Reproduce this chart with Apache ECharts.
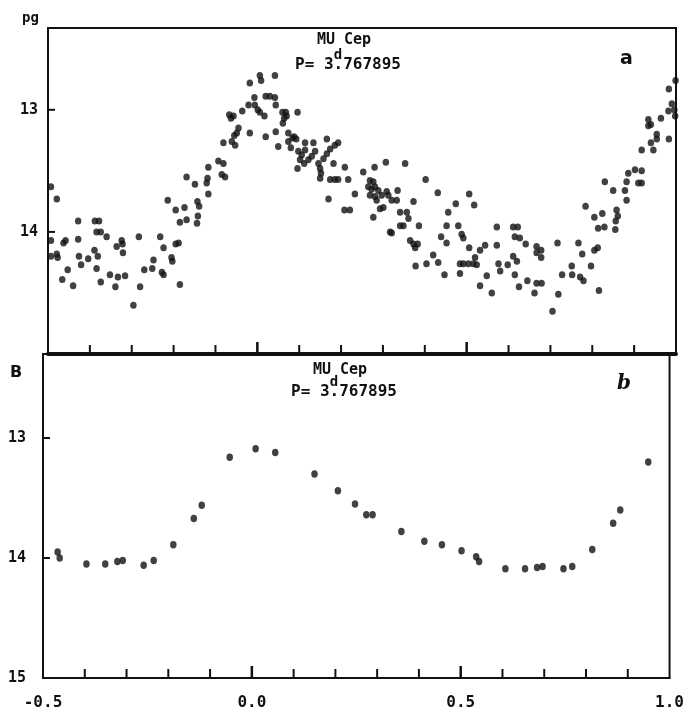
<!DOCTYPE html>
<html>
<head>
<meta charset="utf-8">
<script src="https://cdn.jsdelivr.net/npm/echarts@6/dist/echarts.min.js"></script>
<style>
html,body{margin:0;padding:0;background:#fff;}
#chart{width:687px;height:712px;}
</style>
</head>
<body>
<div id="chart"></div>
<script>
// Panel a: individual observations (phase, pg magnitude)
const phaseA = [
 -0.493,-0.479,-0.493,-0.493,-0.479,-0.477,-0.463,-0.458,-0.466,-0.453,-0.440,-0.428,-0.428,-0.426,-0.421,-0.404,
 -0.388,-0.378,-0.384,-0.374,-0.389,-0.381,-0.384,-0.374,-0.360,-0.352,-0.339,-0.333,-0.316,-0.336,-0.324,-0.322,
 -0.321,-0.296,-0.280,-0.283,-0.270,-0.251,-0.248,-0.232,-0.224,-0.228,-0.224,-0.205,-0.203,-0.195,-0.188,-0.185,
 -0.214,-0.195,-0.174,-0.185,-0.169,-0.169,-0.149,-0.143,-0.139,-0.142,-0.144,-0.117,-0.119,-0.121,-0.117,
 -0.093,-0.081,-0.085,-0.077,-0.081,-0.061,-0.053,-0.055,-0.045,-0.049,-0.067,-0.063,-0.057,-0.036,-0.018,-0.018,
 0.006,0.009,0.042,-0.021,-0.007,-0.006,0.001,0.006,0.017,0.020,0.030,0.042,0.044,0.020,0.044,0.050,
 0.060,0.068,0.064,0.061,0.070,0.096,0.074,0.074,0.084,0.088,0.093,0.080,0.098,0.102,0.106,0.114,
 0.114,0.112,0.096,0.122,0.130,0.134,0.138,0.146,0.150,0.152,0.158,0.166,0.174,0.185,0.193,0.166,
 0.182,0.150,0.174,0.185,0.193,0.209,0.217,0.170,0.208,0.221,0.233,0.253,
 0.280,0.307,0.353,0.269,0.277,0.265,0.273,0.281,0.289,0.269,0.281,0.285,0.297,0.309,0.313,0.335,
 0.321,0.333,0.293,0.301,0.277,0.341,0.357,0.361,0.373,0.341,0.349,0.317,0.321,0.365,0.373,0.377,
 0.383,0.386,0.402,0.431,0.378,0.404,0.420,0.432,0.447,0.439,0.452,0.452,0.456,0.474,0.506,0.518,
 0.480,0.488,0.492,0.506,0.484,0.492,0.504,0.516,0.524,0.520,0.484,0.532,0.544,0.548,0.532,0.560,
 0.572,0.572,0.576,0.580,0.598,0.611,0.622,0.615,0.627,0.641,0.611,0.620,0.615,0.625,0.645,
 0.667,0.678,0.667,0.678,0.667,0.679,0.662,0.705,0.717,0.719,0.728,0.751,0.752,0.767,0.776,0.771,
 0.779,0.797,0.805,0.813,0.816,0.784,0.805,0.824,0.814,0.829,0.830,0.850,0.855,0.856,0.858,0.861,
 0.878,0.882,0.882,0.886,0.902,0.918,0.918,0.910,0.918,0.940,0.946,0.954,0.954,0.934,0.940,0.934,
 0.964,0.983,0.982,0.990,0.996,0.998,0.983,0.999
];
const magA = [
 13.63,13.73,14.07,14.20,14.18,14.21,14.09,14.07,14.39,14.31,14.44,13.91,14.06,14.20,14.27,14.22,
 13.91,13.91,14.00,14.00,14.15,14.20,14.30,14.41,14.04,14.35,14.45,14.37,14.36,14.12,14.07,14.10,
 14.17,14.60,14.45,14.04,14.31,14.30,14.23,14.04,14.13,14.33,14.35,14.21,14.24,14.10,14.09,14.43,
 13.74,13.82,13.80,13.92,13.90,13.55,13.61,13.75,13.79,13.87,13.93,13.47,13.56,13.60,13.69,
 13.42,13.44,13.53,13.55,13.27,13.26,13.29,13.21,13.15,13.19,13.04,13.07,13.05,13.01,13.19,12.78,
 12.72,12.76,12.72,12.96,12.90,12.96,13.00,13.02,13.05,12.89,12.89,12.90,12.96,13.22,13.18,13.30,
 13.02,13.02,13.07,13.11,13.05,13.02,13.19,13.26,13.23,13.22,13.24,13.31,13.34,13.41,13.37,13.27,
 13.33,13.44,13.48,13.41,13.38,13.27,13.34,13.44,13.48,13.52,13.40,13.36,13.32,13.29,13.27,13.24,
 13.44,13.56,13.57,13.57,13.57,13.47,13.57,13.73,13.82,13.82,13.69,13.51,
 13.47,13.43,13.44,13.58,13.59,13.63,13.65,13.63,13.66,13.70,13.71,13.74,13.70,13.67,13.70,13.66,
 13.74,13.74,13.81,13.80,13.88,13.84,13.84,13.89,13.75,13.95,13.95,14.00,14.01,14.07,14.10,14.13,
 14.10,13.95,13.57,13.68,14.28,14.26,14.19,14.25,14.35,14.04,14.09,13.95,13.84,13.77,13.69,13.78,
 13.95,14.02,14.05,14.13,14.26,14.26,14.26,14.26,14.27,14.21,14.34,14.15,14.11,14.36,14.44,14.50,
 13.96,14.11,14.26,14.32,14.27,13.96,13.96,14.04,14.05,14.10,14.20,14.24,14.35,14.45,14.40,
 14.12,14.15,14.17,14.21,14.42,14.42,14.50,14.65,14.09,14.51,14.35,14.28,14.35,14.09,14.18,14.37,
 14.40,14.28,14.15,14.13,14.48,13.79,13.88,13.85,13.97,13.96,13.59,13.66,13.98,13.91,13.82,13.87,
 13.66,13.59,13.74,13.52,13.49,13.50,13.60,13.60,13.33,13.27,13.33,13.24,13.20,13.08,13.12,13.13,
 13.07,12.83,13.01,12.95,13.00,13.05,13.24,12.76
];
// Panel b: mean light curve (phase, B magnitude)
const phaseB = [-0.465,-0.460,-0.396,-0.351,-0.322,-0.309,-0.259,-0.235,-0.188,-0.139,-0.120,-0.053,0.009,0.056,
 0.150,0.206,0.247,0.274,0.289,0.358,0.413,0.455,0.502,0.537,0.544,0.607,0.654,0.683,0.696,0.746,0.767,0.815,0.865,0.882,0.949];
const magB = [13.95,14.00,14.05,14.05,14.03,14.02,14.06,14.02,13.89,13.67,13.56,13.16,13.09,13.12,
 13.30,13.44,13.55,13.64,13.64,13.78,13.86,13.89,13.94,13.99,14.03,14.09,14.09,14.08,14.07,14.09,14.07,13.93,13.71,13.60,13.20];

// axis tick / label values
const xTicks = [-0.4, -0.3, -0.2, -0.1, 0, 0.1, 0.2, 0.3, 0.4, 0.5, 0.6, 0.7, 0.8, 0.9];
const xMajorTicks = [0, 0.5];
const yLabelsA = [13, 14];
const yLabelsB = [13, 14, 15];
const yTicks = [13, 14];

const ink = '#111111';
const mono = '"DejaVu Sans Mono", "Liberation Mono", monospace';

const chart = echarts.init(document.getElementById('chart'), null, {renderer: 'canvas'});

function xAxisFor(gridIndex, lineWidth, showLabels) {
  return {
    type: 'value', gridIndex: gridIndex, min: -0.5, max: 1.0, interval: 0.5, position: 'bottom',
    splitLine: {show: false},
    axisLine: {show: true, onZero: false, lineStyle: {color: ink, width: lineWidth}},
    axisTick: {show: false},
    axisLabel: {show: showLabels, margin: 17, color: ink, fontFamily: mono, fontWeight: 'bold', fontSize: 16,
      showMinLabel: true, showMaxLabel: true,
      formatter: function (v) { return Number(v).toFixed(1); }}
  };
}
function yAxisFor(gridIndex, min, labels, margin) {
  return {
    type: 'value', gridIndex: gridIndex, inverse: true, min: min, max: 15,
    splitLine: {show: false},
    axisLine: {show: false, onZero: false},
    axisTick: {show: false},
    axisLabel: {show: true, customValues: labels, margin: margin, color: ink, fontFamily: mono, fontWeight: 'bold', fontSize: 15}
  };
}
// tick marks as a custom series positioned through the axes' scales
function tickSeries(axisIndex) {
  const data = [];
  xTicks.forEach(function (t) { data.push([t, 15, xMajorTicks.indexOf(t) >= 0 ? 1 : 0]); });
  yTicks.forEach(function (m) { data.push([-0.5, m, 2]); });
  return {
    type: 'custom', xAxisIndex: axisIndex, yAxisIndex: axisIndex, silent: true, clip: false, z: 5,
    data: data,
    renderItem: function (params, api) {
      const p = api.coord([api.value(0), api.value(1)]);
      const kind = api.value(2);
      if (kind === 2) {
        return {type: 'line', shape: {x1: p[0], y1: p[1], x2: p[0] + 7, y2: p[1]}, style: {stroke: ink, lineWidth: 2}};
      }
      const len = kind === 1 ? 12 : 9;
      return {type: 'line', shape: {x1: p[0], y1: p[1], x2: p[0], y2: p[1] - len},
              style: {stroke: ink, lineWidth: kind === 1 ? 2.5 : 2}};
    }
  };
}

const option = {
  backgroundColor: '#ffffff',
  animation: false,
  grid: [
    {left: 48, top: 28, width: 628, height: 326, show: true, borderColor: ink, borderWidth: 2},
    {left: 43, top: 354, width: 627, height: 324, show: true, borderColor: ink, borderWidth: 2}
  ],
  xAxis: [xAxisFor(0, 4, false), xAxisFor(1, 2, true)],
  yAxis: [yAxisFor(0, 12.33, yLabelsA, 10), yAxisFor(1, 12.3, yLabelsB, 17)],
  series: [
    {type: 'scatter', xAxisIndex: 0, yAxisIndex: 0, clip: false,
     symbol: 'circle', symbolSize: [6.5, 7], itemStyle: {color: ink},
     data: phaseA.map(function (p, i) { return [p, magA[i]]; })},
    {type: 'scatter', xAxisIndex: 1, yAxisIndex: 1, clip: false,
     symbol: 'circle', symbolSize: [6.5, 7.5], itemStyle: {color: ink},
     data: phaseB.map(function (p, i) { return [p, magB[i]]; })},
    tickSeries(0),
    tickSeries(1)
  ],
  graphic: [
    {type: 'text', left: 22, top: 11, style: {text: 'pg', fill: ink, font: 'bold 14px ' + mono}},
    {type: 'text', left: 10, top: 365, style: {text: 'B', fill: ink, font: 'bold 16px "DejaVu Sans", sans-serif'}},
    {type: 'text', left: 620, top: 50, style: {text: 'a', fill: ink, font: 'bold 19px "DejaVu Sans", sans-serif'}},
    {type: 'text', left: 617, top: 374, style: {text: 'b', fill: ink, font: 'italic bold 20px "DejaVu Serif", serif'}},
    // panel a title
    {type: 'text', x: 344, y: 40, style: {text: 'MU Cep', fill: ink, font: 'bold 15px ' + mono, textAlign: 'center', textVerticalAlign: 'middle'}},
    {type: 'text', x: 295, y: 65, style: {text: 'P= 3.767895', fill: ink, font: 'bold 16px ' + mono, textAlign: 'left', textVerticalAlign: 'middle'}},
    {type: 'text', x: 338, y: 55, style: {text: 'd', fill: ink, font: 'bold 14px ' + mono, textAlign: 'center', textVerticalAlign: 'middle'}},
    // panel b title
    {type: 'text', x: 340, y: 370, style: {text: 'MU Cep', fill: ink, font: 'bold 15px ' + mono, textAlign: 'center', textVerticalAlign: 'middle'}},
    {type: 'text', x: 291, y: 392, style: {text: 'P= 3.767895', fill: ink, font: 'bold 16px ' + mono, textAlign: 'left', textVerticalAlign: 'middle'}},
    {type: 'text', x: 334, y: 382, style: {text: 'd', fill: ink, font: 'bold 14px ' + mono, textAlign: 'center', textVerticalAlign: 'middle'}}
  ]
};
chart.setOption(option);
</script>
</body>
</html>
